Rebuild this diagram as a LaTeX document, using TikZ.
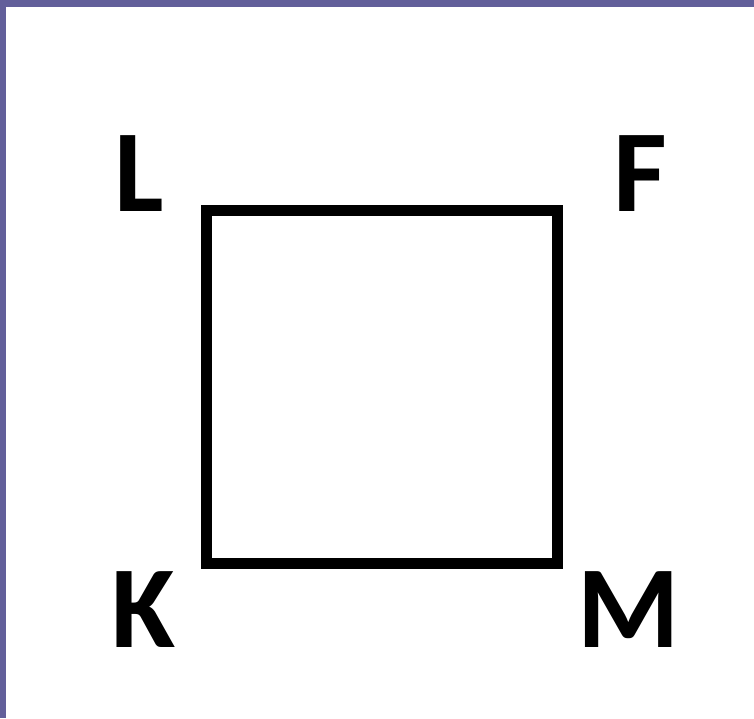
\documentclass[tikz,border=0pt]{standalone}
\usepackage{fontspec}
\setmainfont{Carlito}
\definecolor{frame}{HTML}{625F9A}
\tikzset{
  lbl/.style={font=\bfseries\fontsize{117}{117}\selectfont, inner sep=0pt, anchor=base},
  sq/.style={line width=11pt, line join=miter}
}
\begin{document}
\begin{tikzpicture}[x=1pt,y=1pt]
\useasboundingbox (0,0) rectangle (754,718);
\fill[white] (0,0) rectangle (754,718);
\fill[frame] (0,0) rectangle (6,718);
\fill[frame] (0,711) rectangle (754,718);
\coordinate (cL) at (206,507);
\coordinate (cF) at (557,507);
\coordinate (cM) at (557,155);
\coordinate (cK) at (206,155);
\draw[sq] (cL) -- (cF) -- (cM) -- (cK) -- cycle;
\node[lbl] (L) at (139,506) {L};
\node[lbl] (F) at (640,506) {F};
\node[lbl] (K) at (143,71) {K};
\node[lbl] (M) at (629,71) {M};
\end{tikzpicture}
\end{document}
